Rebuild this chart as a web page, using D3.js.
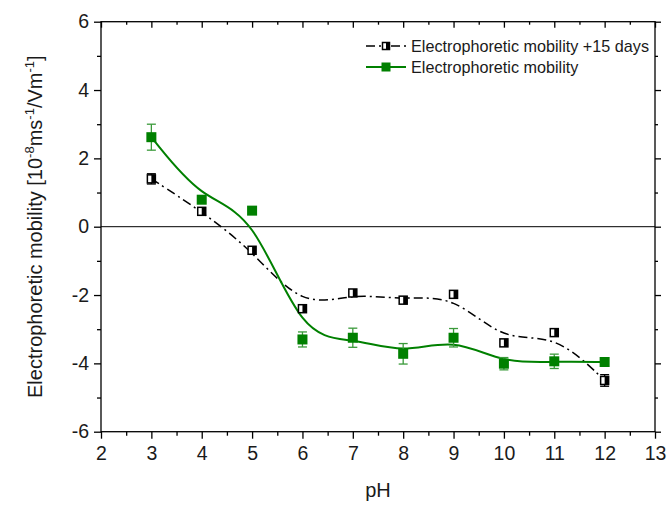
<!DOCTYPE html>
<html><head><meta charset="utf-8">
<script src="https://cdn.jsdelivr.net/npm/d3@7"></script>
<style>body{margin:0;background:#fff}svg{display:block}text{font-family:"Liberation Sans",Arial,sans-serif;fill:#1a1a1a}</style>
</head><body><svg id="c" width="668" height="505"></svg>
<script>
const pH = [3,4,5,6,7,8,9,10,11,12];
const mobility = [2.62,0.79,0.47,-3.30,-3.25,-3.72,-3.25,-4.01,-3.94,-3.96];
const mobilityErr = [0.38,0,0,0.22,0.28,0.30,0.27,0.18,0.21,0];
const mobility15 = [1.40,0.45,-0.69,-2.40,-1.94,-2.15,-1.98,-3.40,-3.10,-4.50];
const mobility15Err = [0.15,0,0,0,0,0,0,0,0,0.17];
const xTicks = [2,3,4,5,6,7,8,9,10,11,12,13];
const yTicks = [-6,-4,-2,0,2,4,6];
const seriesNames = ["Electrophoretic mobility +15 days","Electrophoretic mobility"];

const svg = d3.select("#c");
const L=101,R=655,T=21.7,B=431.7;
const x = d3.scaleLinear().domain([2,13]).range([L,R]);
const y = d3.scaleLinear().domain([-6,6]).range([B,T]);
const green="#008000", errGreen="#3a9a3a";
const fmt = d => String(d);

svg.append("rect").attr("x",L).attr("y",T).attr("width",R-L).attr("height",B-T).attr("fill","none").attr("stroke","#000").attr("stroke-width",1.3);
svg.append("line").attr("x1",L).attr("x2",R).attr("y1",y(0)).attr("y2",y(0)).attr("stroke","#000").attr("stroke-width",1);

const xMinor = d3.range(2.5,13,1);
const yMinor = d3.range(-5,6,2);
const axB = svg.append("g").attr("transform",`translate(0,${B})`);
axB.call(d3.axisBottom(x).tickValues(xTicks).tickSize(7).tickFormat(fmt));
axB.append("g").call(d3.axisBottom(x).tickValues(xMinor).tickSize(4).tickFormat(""));
const axL = svg.append("g").attr("transform",`translate(${L},0)`);
axL.call(d3.axisLeft(y).tickValues(yTicks).tickSize(7).tickFormat(fmt));
axL.append("g").call(d3.axisLeft(y).tickValues(yMinor).tickSize(4).tickFormat(""));
const axT = svg.append("g").attr("transform",`translate(0,${T})`);
axT.call(d3.axisBottom(x).tickValues(xTicks).tickSize(6).tickFormat(""));
axT.append("g").call(d3.axisBottom(x).tickValues(xMinor).tickSize(3).tickFormat(""));
const axR = svg.append("g").attr("transform",`translate(${R},0)`);
axR.call(d3.axisRight(y).tickValues(yTicks).tickSize(6).tickFormat(""));
axR.append("g").call(d3.axisRight(y).tickValues(yMinor).tickSize(3).tickFormat(""));
svg.selectAll(".domain").remove();
svg.selectAll(".tick line").attr("stroke","#000").attr("stroke-width",1.3);
svg.selectAll(".tick text").attr("font-size",19.5).attr("font-family","Liberation Sans, Arial, sans-serif").attr("fill","#1a1a1a");
axB.selectAll(".tick text").attr("dy","0.95em");
axL.selectAll(".tick text").attr("dx","-2px");

svg.append("text").attr("x",(L+R)/2).attr("y",497).attr("text-anchor","middle").attr("font-size",20).text("pH");
const yt = svg.append("text").attr("transform",`translate(42,${(T+B)/2}) rotate(-90)`).attr("text-anchor","middle").attr("font-size",20);
yt.append("tspan").text("Electrophoretic mobility [10");
yt.append("tspan").attr("font-size",13).attr("dy",-8).text("-8");
yt.append("tspan").attr("dy",8).text("ms");
yt.append("tspan").attr("font-size",13).attr("dy",-8).text("-1");
yt.append("tspan").attr("dy",8).text("/Vm");
yt.append("tspan").attr("font-size",13).attr("dy",-8).text("-1");
yt.append("tspan").attr("dy",8).text("]");

const line = d3.line().x((d,i)=>x(pH[i])).y(d=>y(d)).curve(d3.curveBasis);

svg.append("path").attr("d",line(mobility15)).attr("fill","none").attr("stroke","#000").attr("stroke-width",1.5).attr("stroke-dasharray","9,4,2,4");
svg.append("path").attr("d",line(mobility)).attr("fill","none").attr("stroke",green).attr("stroke-width",2);

function errBars(vals,errs,color){
  const g=svg.append("g").attr("stroke",color).attr("stroke-width",1.3);
  vals.forEach((v,i)=>{
    if(!errs[i]) return;
    const cx=x(pH[i]), y1=y(v+errs[i]), y2=y(v-errs[i]);
    g.append("line").attr("x1",cx).attr("x2",cx).attr("y1",y1).attr("y2",y2);
    g.append("line").attr("x1",cx-4.5).attr("x2",cx+4.5).attr("y1",y1).attr("y2",y1);
    g.append("line").attr("x1",cx-4.5).attr("x2",cx+4.5).attr("y1",y2).attr("y2",y2);
  });
}
errBars(mobility15,mobility15Err,"#000");
errBars(mobility,mobilityErr,errGreen);

function halfSquare(g,cx,cy,s){
  g.append("rect").attr("x",cx-s/2).attr("y",cy-s/2).attr("width",s).attr("height",s).attr("fill","#fff").attr("stroke","#000").attr("stroke-width",1.5);
  g.append("rect").attr("x",cx).attr("y",cy-s/2).attr("width",s/2).attr("height",s).attr("fill","#000");
}
function fullSquare(g,cx,cy,s){
  g.append("rect").attr("x",cx-s/2).attr("y",cy-s/2).attr("width",s).attr("height",s).attr("fill",green);
}
const m15=svg.append("g");
mobility15.forEach((v,i)=>halfSquare(m15,x(pH[i]),y(v),8));
const mg=svg.append("g");
mobility.forEach((v,i)=>fullSquare(mg,x(pH[i]),y(v),10));

const lg=svg.append("g");
lg.append("line").attr("x1",366).attr("x2",406).attr("y1",46).attr("y2",46).attr("stroke","#000").attr("stroke-width",1.5).attr("stroke-dasharray","9,4,2,4,2,4");
halfSquare(lg,386,46,7);
lg.append("text").attr("x",411).attr("y",51.5).attr("font-size",16.2).text(seriesNames[0]);
lg.append("line").attr("x1",366).attr("x2",406).attr("y1",67).attr("y2",67).attr("stroke",green).attr("stroke-width",2);
fullSquare(lg,386,67,9);
lg.append("text").attr("x",411).attr("y",72.5).attr("font-size",16.2).text(seriesNames[1]);
</script></body></html>
